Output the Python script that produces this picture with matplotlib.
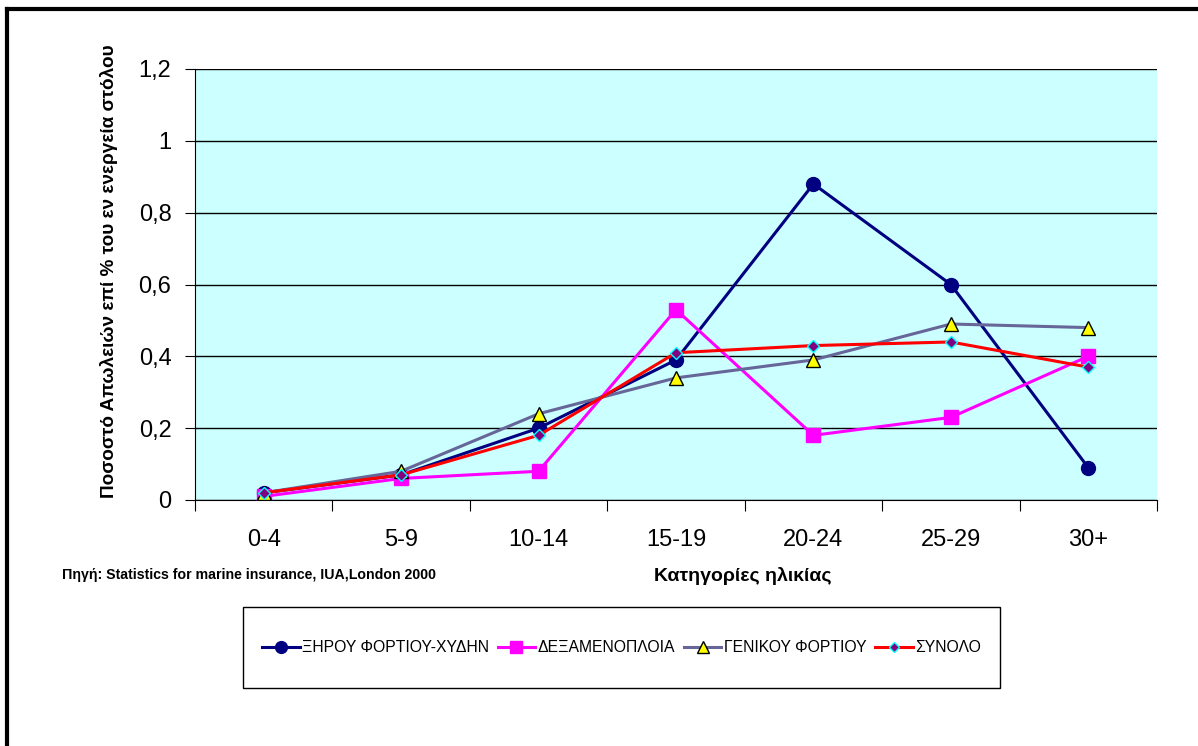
import matplotlib
matplotlib.use("Agg")
import matplotlib.pyplot as plt
from matplotlib.lines import Line2D
from matplotlib.ticker import FixedLocator, FuncFormatter

plt.rcParams['font.family'] = ['Liberation Sans', 'DejaVu Sans']

categories = ['0-4', '5-9', '10-14', '15-19', '20-24', '25-29', '30+']
xirou = [0.02, 0.07, 0.20, 0.39, 0.88, 0.60, 0.09]
dexamenoploia = [0.01, 0.06, 0.08, 0.53, 0.18, 0.23, 0.40]
genikou = [0.02, 0.08, 0.24, 0.34, 0.39, 0.49, 0.48]
synolo = [0.02, 0.07, 0.18, 0.41, 0.43, 0.44, 0.37]
yticks = [0, 0.2, 0.4, 0.6, 0.8, 1.0, 1.2]

fig = plt.figure(figsize=(11.98, 7.46), dpi=100)
ax = fig.add_axes([195 / 1198, 1 - 500 / 746, 962 / 1198, 431 / 746])
ax.set_facecolor('#CCFFFF')

x = list(range(len(categories)))
ax.plot(x, xirou, color='#000080', lw=2.2, marker='o', ms=10,
        mfc='#000080', mec='#000080', label='ΞΗΡΟΥ ΦΟΡΤΙΟΥ-ΧΥΔΗΝ', zorder=3)
ax.plot(x, dexamenoploia, color='#FF00FF', lw=2.2, marker='s', ms=9.5,
        mfc='#FF00FF', mec='#FF00FF', label='ΔΕΞΑΜΕΝΟΠΛΟΙΑ', zorder=3)
ax.plot(x, genikou, color='#666699', lw=2.2, marker='^', ms=9.5,
        mfc='#FFFF00', mec='black', mew=1, label='ΓΕΝΙΚΟΥ ΦΟΡΤΙΟΥ', zorder=3)
ax.plot(x, synolo, color='#FF0000', lw=2.2, marker='D', ms=6.5,
        mfc='#800080', mec='#00FFFF', mew=1, label='ΣΥΝΟΛΟ', zorder=3)

ax.set_xlim(-0.5, 6.5)
ax.set_ylim(0, 1.2)
ax.set_yticks(yticks)
ax.yaxis.set_major_formatter(FuncFormatter(lambda v, p: f"{v:g}".replace('.', ',')))
ax.grid(axis='y', color='black', lw=1, zorder=1)
ax.set_axisbelow(True)

ax.xaxis.set_major_locator(FixedLocator([i - 0.5 for i in range(len(categories) + 1)]))
ax.xaxis.set_major_formatter(FuncFormatter(lambda v, p: ''))
ax.xaxis.set_minor_locator(FixedLocator(x))
ax.set_xticklabels(categories, minor=True)
ax.tick_params(axis='x', which='major', length=8, direction='out', color='black')
ax.tick_params(axis='x', which='minor', length=0, labelsize=17, pad=21)
ax.tick_params(axis='y', length=7, direction='out', labelsize=17, pad=10)

for s in ['top', 'right']:
    ax.spines[s].set_visible(False)
ax.spines['left'].set_color('black')
ax.spines['bottom'].set_color('black')

ax.set_ylabel('Ποσοστό Απωλειών επί % του εν ενεργεία στόλου',
              fontsize=13.7, fontweight='bold')
ax.yaxis.set_label_coords((118 - 195) / 962, (500 - 271) / 431)
fig.text(743 / 1198, 1 - 576 / 746, 'Κατηγορίες ηλικίας', fontsize=14,
         fontweight='bold', ha='center', va='center')
fig.text(62 / 1198, 1 - 575 / 746, 'Πηγή: Statistics for marine insurance, IUA,London 2000',
         fontsize=10.2, fontweight='bold', ha='left', va='center')

leg = fig.legend(loc='center', bbox_to_anchor=(243 / 1198, 1 - 688 / 746, 757 / 1198, 81 / 746),
                 ncol=4, frameon=False, fontsize=11.3, markerscale=0.85,
                 handlelength=2.4, handletextpad=0.15, columnspacing=0.55, borderaxespad=0)
box = plt.Rectangle((243 / 1198, 1 - 688 / 746), 757 / 1198, 81 / 746, transform=fig.transFigure,
                    fill=False, edgecolor='black', lw=1)
fig.add_artist(box)

fig.add_artist(Line2D([7 / 1198, 7 / 1198], [0, 1 - 9 / 746], color='black', lw=3,
                      transform=fig.transFigure))
fig.add_artist(Line2D([7 / 1198, 1], [1 - 9 / 746, 1 - 9 / 746], color='black', lw=3,
                      transform=fig.transFigure))

fig.savefig('out.png', dpi=100)
